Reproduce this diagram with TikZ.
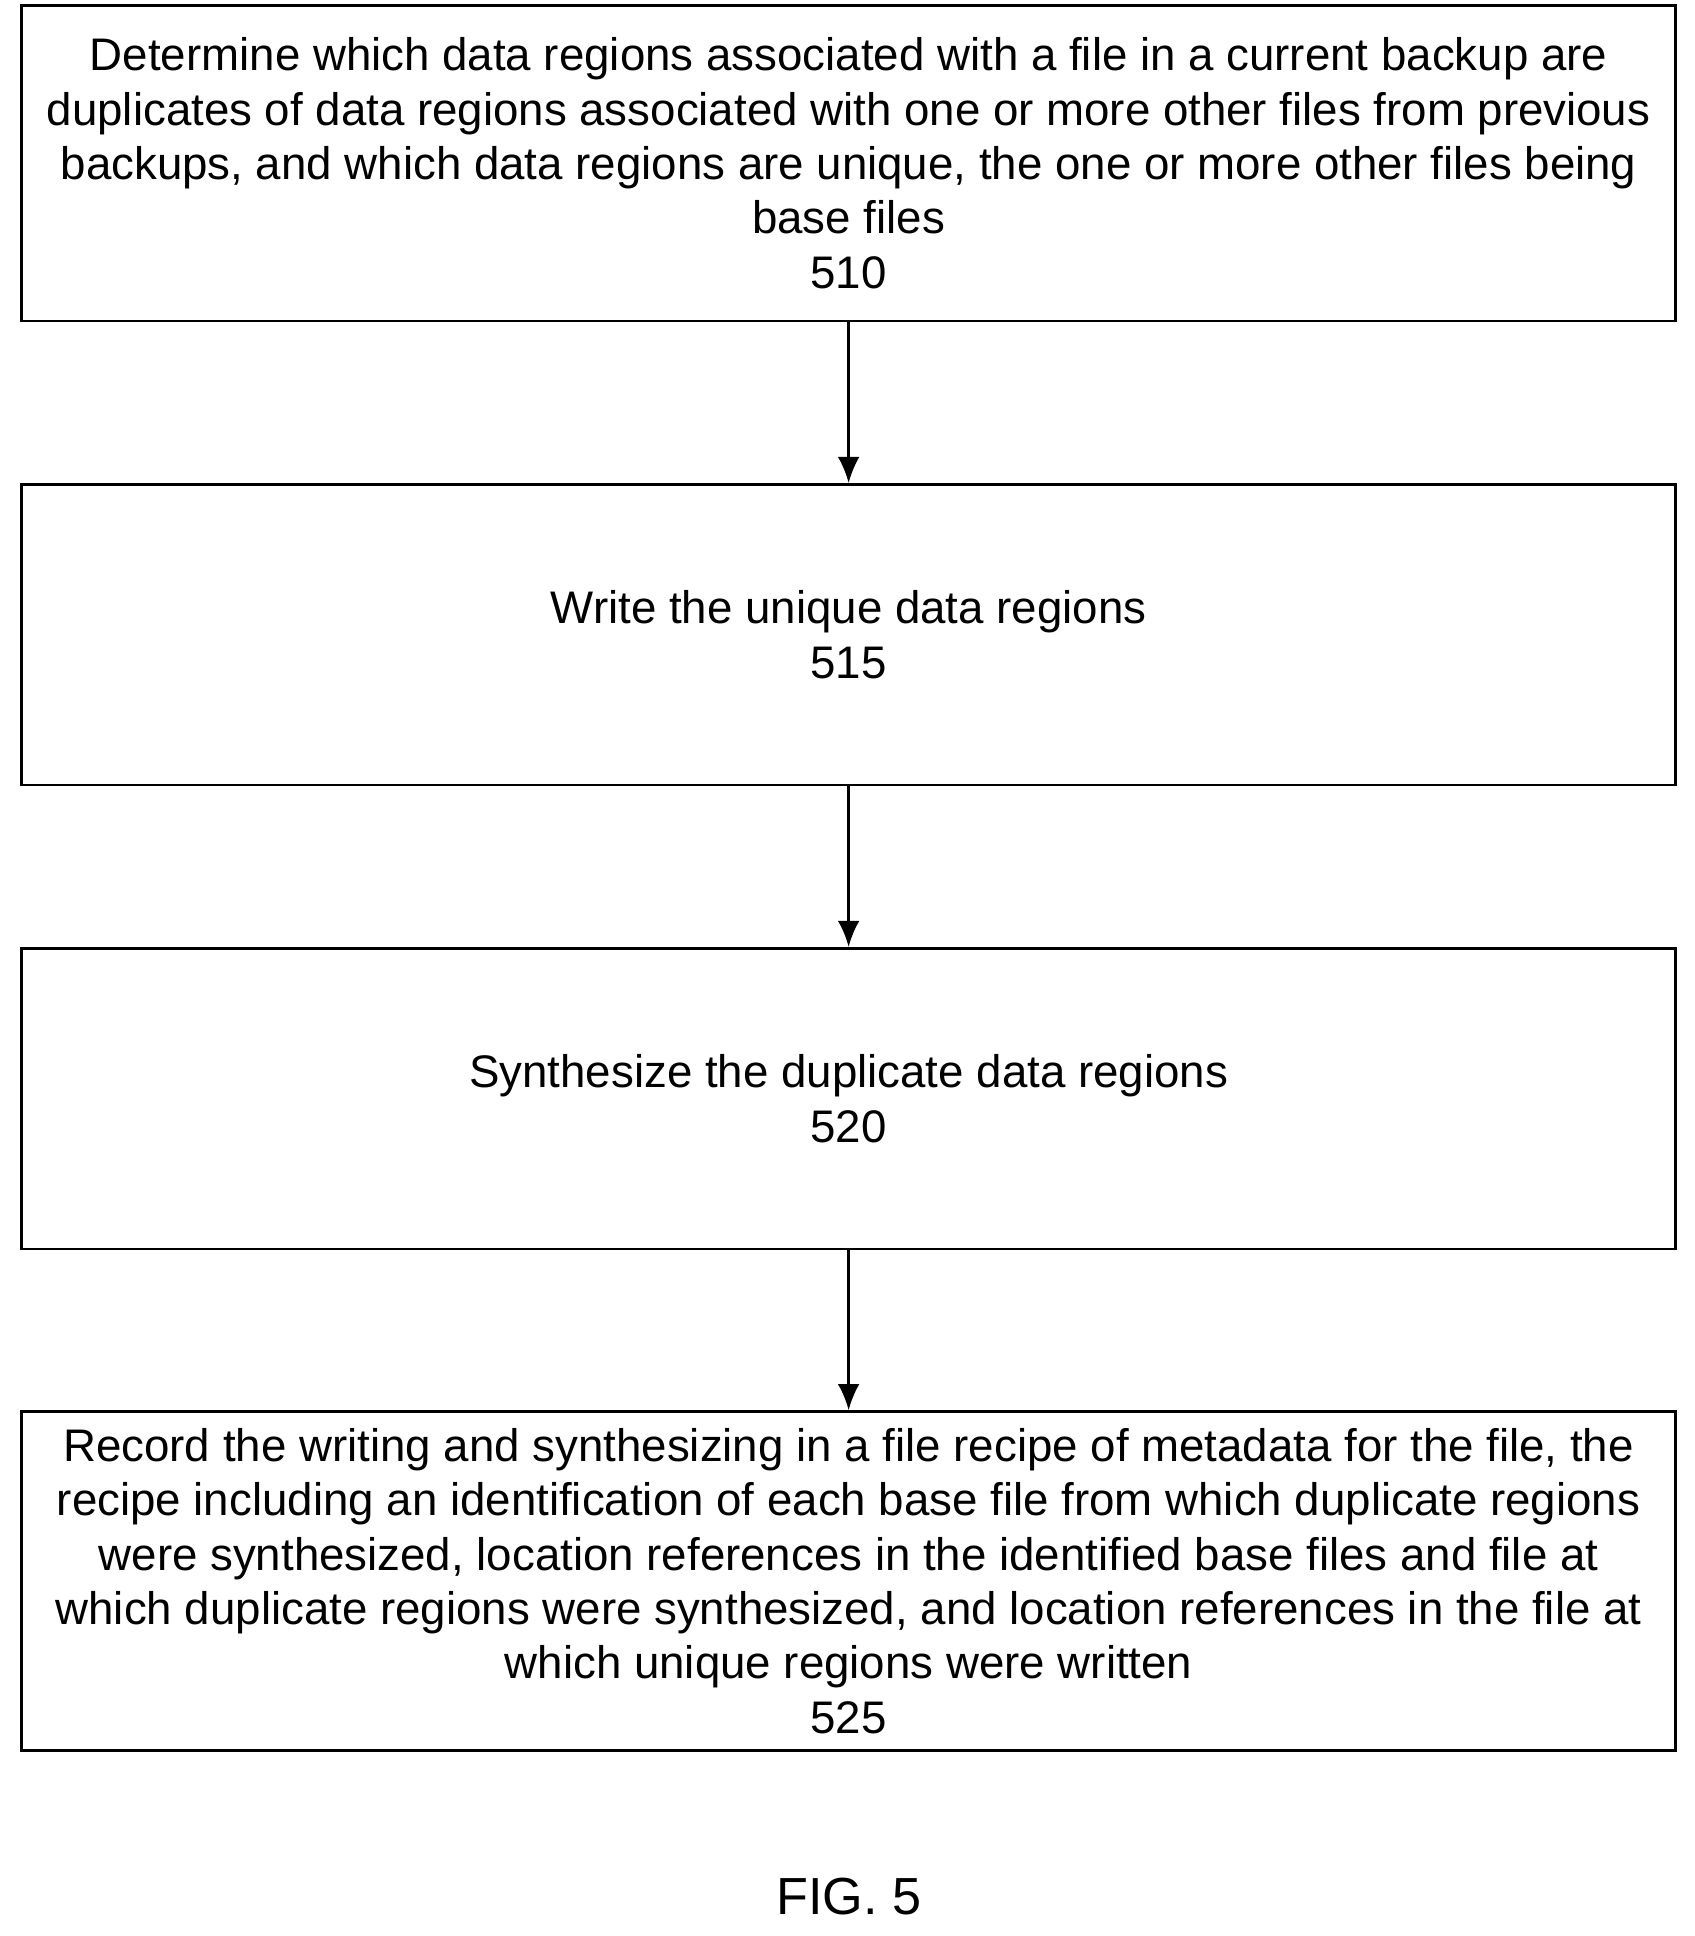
\documentclass[tikz,border=0pt]{standalone}
\usepackage{fontspec}
\setmainfont{Liberation Sans}
\usetikzlibrary{positioning,arrows.meta}
\tikzset{flowbox/.style={rectangle, draw=black, line width=1.2pt, minimum width=26.74cm, align=center, font=\fontsize{21}{25}\selectfont},
  flowarrow/.style={-{Latex[length=12pt,width=10pt]}, line width=1.2pt}}
\begin{document}
\begin{tikzpicture}
	  \useasboundingbox (0,0) rectangle (27.4,-31.3);
	  \node[flowbox, minimum height=5.1cm] (determine) at (13.72,-2.64) {Determine which data regions associated with a file in a current backup are\\duplicates of data regions associated with one or more other files from previous\\backups, and which data regions are unique, the one or more other files being\\base files\\510};
	  \node[flowbox, minimum height=4.86cm] (write) at (13.72,-10.26) {Write the unique data regions\\515};
	  \node[flowbox, minimum height=4.86cm] (synth) at (13.72,-17.76) {Synthesize the duplicate data regions\\520};
	  \node[flowbox, minimum height=5.48cm] (record) at (13.72,-25.56) {Record the writing and synthesizing in a file recipe of metadata for the file, the\\recipe including an identification of each base file from which duplicate regions\\were synthesized, location references in the identified base files and file at\\which duplicate regions were synthesized, and location references in the file at\\which unique regions were written\\525};
	  \node[font=\fontsize{24}{28}\selectfont] (fig) at (13.72,-30.66) {FIG. 5};
	  \draw[flowarrow] (determine) -- (write);
	  \draw[flowarrow] (write) -- (synth);
	  \draw[flowarrow] (synth) -- (record);
	\end{tikzpicture}
\end{document}
